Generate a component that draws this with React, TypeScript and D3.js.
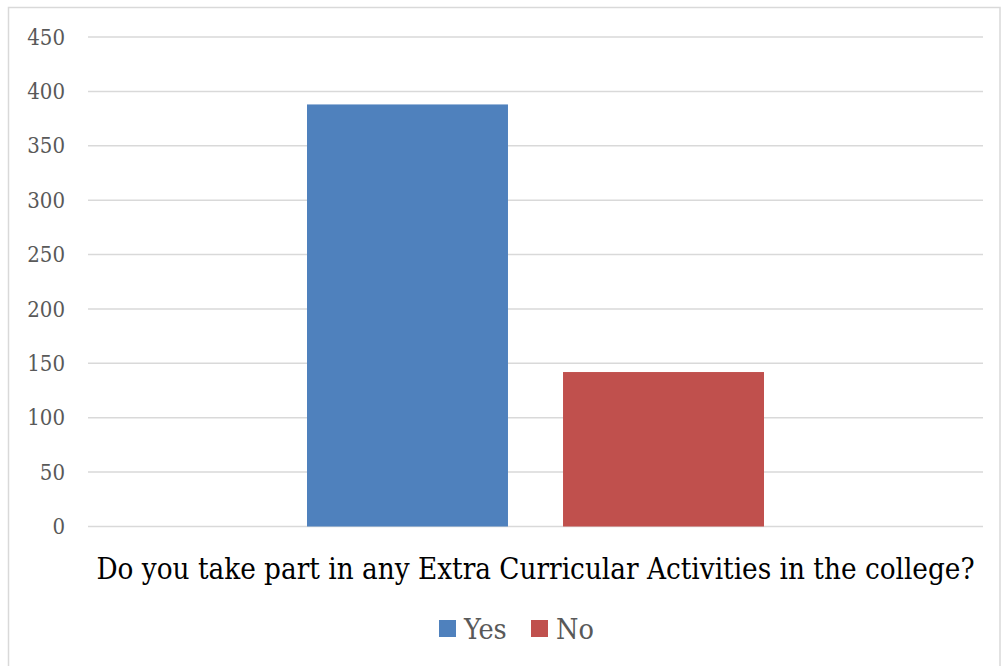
import React from "react";
import * as d3 from "d3";

const categories: string[] = ["Do you take part in any Extra Curricular Activities in the college?"];
const seriesNames: string[] = ["Yes", "No"];
const yesValues: number[] = [388];
const noValues: number[] = [142];
const yTicks: number[] = [0, 50, 100, 150, 200, 250, 300, 350, 400, 450];
const colors: string[] = ["#4F81BD", "#C0504D"];

const W = 1001;
const H = 666;
const FONT = "'DejaVu Serif Condensed', 'DejaVu Serif', serif";

export default function App() {
  const left = 88, right = 983, top = 37, bottom = 526.5;
  const y = d3.scaleLinear().domain([0, 450]).range([bottom, top]);
  const x0 = d3.scaleBand<string>().domain(categories).range([left, right]).padding(0);
  const bw = x0.bandwidth();
  const x1 = d3.scaleBand<string>().domain(seriesNames).range([bw * 0.2447, bw * 0.7553]).paddingInner(0.215);
  const values = [yesValues, noValues];
  const txt = { fontFamily: FONT, fontStretch: "condensed" as const };

  return (
    <svg width={W} height={H} style={{ position: "absolute", left: 0, top: 0 }}>
      <rect x={0} y={0} width={W} height={H} fill="#fff" />
      <rect x={8.5} y={7.5} width={W - 9.5} height={H} fill="none" stroke="#D9D9D9" strokeWidth={1.5} />
      {yTicks.map((t) => (
        <g key={t}>
          <line x1={left} x2={right} y1={y(t)} y2={y(t)} stroke="#D9D9D9" strokeWidth={1.5} />
          <text x={65} y={y(t)} dy="0.35em" textAnchor="end" style={txt} fontSize={22} fill="#595959">
            {t}
          </text>
        </g>
      ))}
      {categories.map((c, ci) => (
        <g key={c} transform={`translate(${x0(c)},0)`}>
          {seriesNames.map((s, si) => (
            <rect
              key={s}
              x={x1(s)}
              y={y(values[si][ci])}
              width={x1.bandwidth()}
              height={y(0) - y(values[si][ci])}
              fill={colors[si]}
            />
          ))}
          <text x={bw / 2} y={569} dy="0.35em" textAnchor="middle" style={txt} fontSize={29.3} fill="#000">
            {c}
          </text>
        </g>
      ))}
      {seriesNames.map((s, si) => {
        const lx = [439, 531][si];
        return (
          <g key={s}>
            <rect x={lx} y={620} width={17} height={17} fill={colors[si]} />
            <text x={lx + 25} y={629} dy="0.35em" style={txt} fontSize={28.5} fill="#595959">
              {s}
            </text>
          </g>
        );
      })}
    </svg>
  );
}
